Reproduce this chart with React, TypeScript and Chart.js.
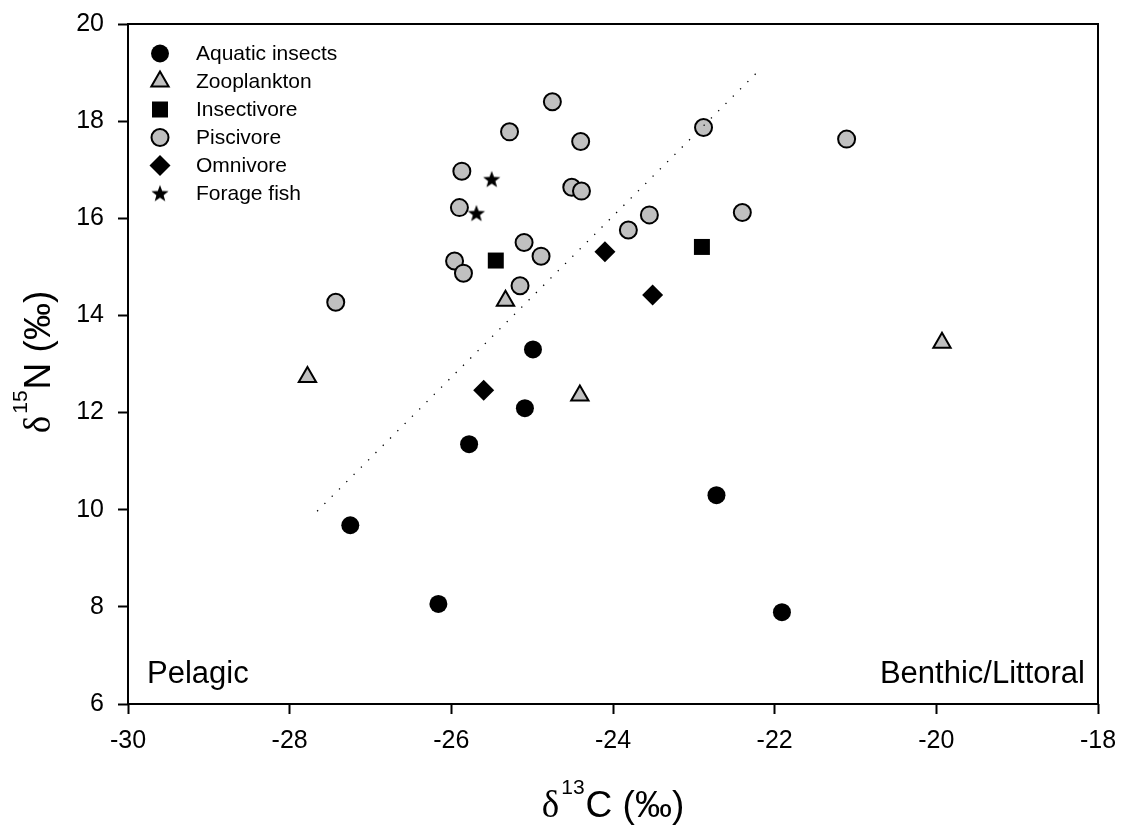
import React, { useEffect, useRef } from 'react';
import { Chart, registerables } from 'chart.js';

Chart.register(...registerables);

const SANS = '"Liberation Sans", Arial, sans-serif';
const SERIF = '"Liberation Serif", "Times New Roman", serif';

const seriesNames = ['Aquatic insects', 'Zooplankton', 'Insectivore', 'Piscivore', 'Omnivore', 'Forage fish'];

const xAquatic = [-27.25, -26.16, -25.78, -25.09, -24.99, -22.72, -21.91];
const yAquatic = [9.68, 8.06, 11.35, 12.09, 13.3, 10.3, 7.89];

const xZooplankton = [-27.78, -25.33, -24.41, -19.93];
const yZooplankton = [12.73, 14.3, 12.35, 13.44];

const xInsectivore = [-25.45, -22.9];
const yInsectivore = [15.13, 15.41];

const xPiscivore = [-24.75, -25.28, -24.4, -25.87, -24.51, -24.39, -25.9, -23.55, -23.81, -25.1, -24.89, -25.96, -25.85, -25.15, -27.43, -22.88, -21.11, -22.4];
const yPiscivore = [18.4, 17.78, 17.58, 16.97, 16.64, 16.56, 16.22, 16.07, 15.76, 15.5, 15.22, 15.12, 14.87, 14.61, 14.27, 17.87, 17.63, 16.12];

const xOmnivore = [-25.6, -24.1, -23.51];
const yOmnivore = [12.46, 15.31, 14.42];

const xForage = [-25.5, -25.69];
const yForage = [16.8, 16.1];

const xFit = [-27.66, -22.22];
const yFit = [9.97, 19.0];

const xTicks = [-30, -28, -26, -24, -22, -20, -18];
const yTicks = [6, 8, 10, 12, 14, 16, 18, 20];

const zip = (xs: number[], ys: number[]) => xs.map((x, i) => ({ x, y: ys[i] }));

function makeStar(size: number, outer: number, inner: number) {
  const c = document.createElement('canvas');
  c.width = size;
  c.height = size;
  const g = c.getContext('2d')!;
  const cx = size / 2;
  const cy = size / 2 + 0.5;
  g.beginPath();
  for (let i = 0; i < 10; i++) {
    const r = i % 2 === 0 ? outer : inner;
    const a = -Math.PI / 2 + (i * Math.PI) / 5;
    const px = cx + r * Math.cos(a);
    const py = cy + r * Math.sin(a);
    if (i === 0) g.moveTo(px, py);
    else g.lineTo(px, py);
  }
  g.closePath();
  g.fillStyle = '#000';
  g.fill();
  return c;
}

function drawMarker(ctx: CanvasRenderingContext2D, kind: string, x: number, y: number, star: HTMLCanvasElement) {
  ctx.save();
  ctx.lineWidth = 2;
  ctx.strokeStyle = '#000';
  ctx.beginPath();
  if (kind === 'circleBlack') {
    ctx.arc(x, y, 9, 0, Math.PI * 2);
    ctx.fillStyle = '#000';
    ctx.fill();
  } else if (kind === 'circleGrey') {
    ctx.arc(x, y, 8.5, 0, Math.PI * 2);
    ctx.fillStyle = '#c0c0c0';
    ctx.fill();
    ctx.stroke();
  } else if (kind === 'triangle') {
    const r = 10;
    for (let i = 0; i < 3; i++) {
      const a = (i * 2 * Math.PI) / 3;
      const px = x + Math.sin(a) * r;
      const py = y - Math.cos(a) * r;
      if (i === 0) ctx.moveTo(px, py);
      else ctx.lineTo(px, py);
    }
    ctx.closePath();
    ctx.fillStyle = '#c0c0c0';
    ctx.fill();
    ctx.stroke();
  } else if (kind === 'rect') {
    ctx.rect(x - 8, y - 8, 16, 16);
    ctx.fillStyle = '#000';
    ctx.fill();
  } else if (kind === 'diamond') {
    const r = 10.5;
    ctx.moveTo(x - r, y);
    ctx.lineTo(x, y - r);
    ctx.lineTo(x + r, y);
    ctx.lineTo(x, y + r);
    ctx.closePath();
    ctx.fillStyle = '#000';
    ctx.fill();
  } else if (kind === 'star') {
    ctx.drawImage(star, x - star.width / 2, y - star.height / 2);
  }
  ctx.restore();
}

function drawSupTitle(ctx: CanvasRenderingContext2D, sup: string, rest: string) {
  const big = 37;
  const small = 21;
  ctx.font = `${big}px ${SERIF}`;
  const wD = ctx.measureText('δ').width;
  ctx.font = `${small}px ${SANS}`;
  const wS = ctx.measureText(sup).width;
  ctx.font = `${big}px ${SANS}`;
  const wR = ctx.measureText(rest).width;
  const total = wD + 2 + wS + 1 + wR;
  let x = -total / 2;
  ctx.textAlign = 'left';
  ctx.textBaseline = 'alphabetic';
  ctx.fillStyle = '#000';
  ctx.font = `${big}px ${SERIF}`;
  ctx.fillText('δ', x, 0);
  x += wD + 2;
  ctx.font = `${small}px ${SANS}`;
  ctx.fillText(sup, x, -23);
  x += wS + 1;
  ctx.font = `${big}px ${SANS}`;
  ctx.fillText(rest, x, 0);
}

export default function App() {
  const ref = useRef<HTMLCanvasElement | null>(null);

  useEffect(() => {
    const canvas = ref.current;
    if (!canvas) return;
    const star = makeStar(20, 9, 3.8);
    const legendKinds = ['circleBlack', 'triangle', 'rect', 'circleGrey', 'diamond', 'star'];

    const decor = {
      id: 'decor',
      afterDraw(chart: any) {
        const ctx: CanvasRenderingContext2D = chart.ctx;
        const a = chart.chartArea;
        ctx.save();
        // frame
        ctx.strokeStyle = '#000';
        ctx.lineWidth = 2;
        ctx.strokeRect(a.left, a.top, a.right - a.left, a.bottom - a.top);
        // legend
        seriesNames.forEach((name, i) => {
          const y = a.top + 29.5 + i * 28;
          drawMarker(ctx, legendKinds[i], a.left + 32, y, star);
          ctx.font = `21px ${SANS}`;
          ctx.textBaseline = 'middle';
          ctx.textAlign = 'left';
          ctx.fillStyle = '#000';
          ctx.fillText(name, a.left + 68, y + 1);
        });
        // region annotations
        ctx.font = `31px ${SANS}`;
        ctx.fillStyle = '#000';
        ctx.textBaseline = 'alphabetic';
        ctx.textAlign = 'left';
        ctx.fillText('Pelagic', a.left + 19, a.bottom - 21);
        ctx.textAlign = 'right';
        ctx.fillText('Benthic/Littoral', a.right - 13, a.bottom - 21);
        // axis titles
        ctx.save();
        ctx.translate((a.left + a.right) / 2, 817);
        drawSupTitle(ctx, '13', 'C (‰)');
        ctx.restore();
        ctx.save();
        ctx.translate(50, (a.top + a.bottom) / 2 - 2);
        ctx.rotate(-Math.PI / 2);
        drawSupTitle(ctx, '15', 'N (‰)');
        ctx.restore();
        ctx.restore();
      },
    };

    const tickFont = { family: SANS, size: 25 };

    const chart = new Chart(canvas, {
      type: 'scatter',
      data: {
        datasets: [
          {
            label: 'fit',
            data: zip(xFit, yFit),
            showLine: true,
            borderColor: '#000',
            borderWidth: 1.3,
            borderDash: [1.3, 9],
            pointRadius: 0,
            fill: false,
          },
          {
            label: seriesNames[5],
            data: zip(xForage, yForage),
            pointStyle: star as any,
            pointRadius: 9,
          },
          {
            label: seriesNames[4],
            data: zip(xOmnivore, yOmnivore),
            pointStyle: 'rectRot',
            pointRadius: 10.5,
            backgroundColor: '#000',
            borderColor: '#000',
            borderWidth: 0,
          },
          {
            label: seriesNames[2],
            data: zip(xInsectivore, yInsectivore),
            pointStyle: 'rect',
            pointRadius: 11.3,
            backgroundColor: '#000',
            borderColor: '#000',
            borderWidth: 0,
          },
          {
            label: seriesNames[1],
            data: zip(xZooplankton, yZooplankton),
            pointStyle: 'triangle',
            pointRadius: 10,
            backgroundColor: '#c0c0c0',
            borderColor: '#000',
            borderWidth: 2,
          },
          {
            label: seriesNames[3],
            data: zip(xPiscivore, yPiscivore),
            pointStyle: 'circle',
            pointRadius: 8.5,
            backgroundColor: '#c0c0c0',
            borderColor: '#000',
            borderWidth: 2,
          },
          {
            label: seriesNames[0],
            data: zip(xAquatic, yAquatic),
            pointStyle: 'circle',
            pointRadius: 9,
            backgroundColor: '#000',
            borderColor: '#000',
            borderWidth: 0,
          },
        ],
      },
      options: {
        responsive: false,
        animation: false,
        events: [],
        layout: { padding: { top: 24, right: 23, left: 0, bottom: 0 } },
        plugins: {
          legend: { display: false },
          tooltip: { enabled: false },
        },
        scales: {
          x: {
            type: 'linear',
            min: -30,
            max: -18,
            afterBuildTicks: (s: any) => {
              s.ticks = xTicks.map((v) => ({ value: v }));
            },
            afterFit: (s: any) => {
              s.height = 124;
              s.paddingLeft = 0;
              s.paddingRight = 0;
            },
            ticks: { font: tickFont, color: '#000', padding: 12, maxRotation: 0 },
            grid: { drawOnChartArea: false, drawTicks: true, tickLength: 10, tickColor: '#000', tickWidth: 2 },
            border: { display: false },
            title: { display: false },
          },
          y: {
            type: 'linear',
            min: 6,
            max: 20,
            afterBuildTicks: (s: any) => {
              s.ticks = yTicks.map((v) => ({ value: v }));
            },
            afterFit: (s: any) => {
              s.width = 128;
              s.paddingTop = 0;
              s.paddingBottom = 0;
            },
            ticks: { font: tickFont, color: '#000', padding: 14 },
            grid: { drawOnChartArea: false, drawTicks: true, tickLength: 10, tickColor: '#000', tickWidth: 2 },
            border: { display: false },
            title: { display: false },
          },
        },
      },
      plugins: [decor],
    } as any);

    return () => {
      chart.destroy();
    };
  }, []);

  return (
    <div style={{ position: 'fixed', left: 0, top: 0, width: 1121, height: 828, background: '#fff' }}>
      <canvas ref={ref} width={1121} height={828} style={{ display: 'block', width: 1121, height: 828 }} />
    </div>
  );
}
